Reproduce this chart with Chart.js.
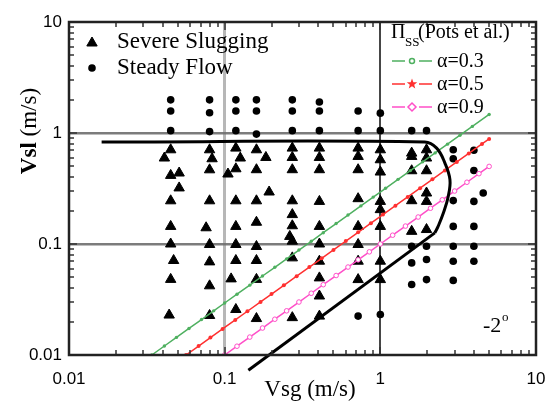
<!DOCTYPE html>
<html>
<head>
<meta charset="utf-8">
<script src="https://cdn.jsdelivr.net/npm/chart.js@4/dist/chart.umd.min.js"></script>
<style>
html, body { margin: 0; padding: 0; background: #fff; }
canvas { display: block; }
</style>
</head>
<body>
<canvas id="chart" width="546" height="403"></canvas>
<script>
// decade tick labels
const xTicks = [0.01, 0.1, 1, 10];
const yTicks = [0.01, 0.1, 1, 10];

// severe slugging (triangles)
const slugVsg = [
  0.045, 0.041, 0.045, 0.051, 0.051, 0.045, 0.045, 0.045, 0.047, 0.045, 0.044,
  0.08, 0.083, 0.08, 0.08, 0.076, 0.08, 0.08, 0.08, 0.08,
  0.118, 0.126, 0.118, 0.105, 0.118, 0.118, 0.118, 0.118, 0.110, 0.118,
  0.16, 0.184, 0.16, 0.193, 0.16, 0.16, 0.16, 0.16, 0.16, 0.16,
  0.272, 0.272, 0.272, 0.272, 0.272, 0.272, 0.262, 0.272, 0.272, 0.272,
  0.406, 0.406, 0.406, 0.406, 0.406, 0.406, 0.406, 0.406, 0.406, 0.406,
  0.72, 0.72, 0.72, 0.72, 0.72, 0.72, 0.72, 0.72,
  1, 1, 1, 1, 1, 1, 1, 1,
  1.59, 1.59, 1.59, 1.59, 1.59,
  1.98, 1.98, 1.98, 1.98, 1.98, 1.98
];
const slugVsl = [
  0.706, 0.595, 0.415, 0.436, 0.32, 0.245, 0.144, 0.100, 0.071, 0.048, 0.0229,
  0.706, 0.586, 0.466, 0.245, 0.14, 0.099, 0.069, 0.042, 0.0227,
  0.731, 0.595, 0.476, 0.427, 0.245, 0.144, 0.099, 0.071, 0.0485, 0.0257,
  0.706, 0.602, 0.467, 0.294, 0.245, 0.157, 0.095, 0.071, 0.048, 0.0213,
  0.731, 0.602, 0.467, 0.245, 0.184, 0.146, 0.117, 0.106, 0.075, 0.0217,
  0.731, 0.602, 0.467, 0.242, 0.144, 0.1, 0.07, 0.0495, 0.034, 0.0224,
  0.731, 0.615, 0.467, 0.256, 0.144, 0.099, 0.07, 0.0478,
  0.706, 0.574, 0.445, 0.242, 0.204, 0.144, 0.07, 0.0478,
  0.659, 0.615, 0.457, 0.2455, 0.13,
  0.706, 0.595, 0.457, 0.288, 0.242, 0.135
];

// steady flow (dots)
const steadyVsg = [
  0.045, 0.045, 0.045, 0.08, 0.08, 0.08, 0.118, 0.118, 0.118,
  0.16, 0.16, 0.16, 0.272, 0.272, 0.272, 0.406, 0.406, 0.406,
  0.72, 0.72, 1, 1, 1.59, 1.98,
  2.94, 2.94, 2.94, 2.94, 2.94, 2.94, 2.94,
  3.99, 3.99, 3.99, 3.99, 3.99, 3.99,
  4.58,
  1.59, 1.59, 1.59, 1.98, 1.98, 1.98,
  0.72, 1
];
const steadyVsl = [
  1.99, 1.58, 1.05, 1.99, 1.52, 1.03, 1.99, 1.58, 1.05,
  1.99, 1.58, 0.977, 1.99, 1.58, 1.05, 1.9, 1.58, 1.05,
  1.58, 1.05, 1.51, 1.05, 1.05, 1.05,
  0.706, 0.586, 0.246, 0.144, 0.0953, 0.07, 0.047,
  0.70, 0.46, 0.242, 0.144, 0.0953, 0.07,
  0.288,
  0.0953, 0.0676, 0.0431, 0.0953, 0.0724, 0.0478,
  0.0224, 0.0232
];

// Pots et al. criterion lines
const a03Vsg = [0.034, 0.041, 0.049, 0.059, 0.071, 0.085, 0.1, 0.12, 0.145, 0.175, 0.21, 0.25, 0.3, 0.36,
  0.43, 0.52, 0.62, 0.75, 0.9, 1.08, 1.3, 1.56, 1.87, 2.25, 2.7, 3.25, 3.9, 5.0];
const a03Vsl = [0.01, 0.01205, 0.0144, 0.01735, 0.02087, 0.025, 0.0294, 0.0353, 0.0426, 0.0515, 0.0617, 0.0735,
  0.0882, 0.1058, 0.1264, 0.1529, 0.1823, 0.2205, 0.2646, 0.3175, 0.3822, 0.4586, 0.5498, 0.6615, 0.7938,
  0.9555, 1.147, 1.47];
const a05Vsg = [0.0565, 0.068, 0.081, 0.097, 0.117, 0.14, 0.17, 0.2, 0.24, 0.29, 0.35, 0.42, 0.5, 0.6, 0.72,
  0.87, 1.04, 1.25, 1.5, 1.8, 2.16, 2.6, 3.1, 3.7, 4.5, 5.0];
const a05Vsl = [0.01, 0.01204, 0.01434, 0.01717, 0.02071, 0.02478, 0.03009, 0.0354, 0.04248, 0.05133, 0.06195,
  0.07434, 0.0885, 0.1062, 0.1274, 0.154, 0.1841, 0.2213, 0.2655, 0.3186, 0.3823, 0.4602, 0.5487, 0.6549,
  0.7965, 0.885];
const a09Vsg = [0.1, 0.12, 0.145, 0.175, 0.21, 0.25, 0.3, 0.36, 0.43, 0.52, 0.62, 0.72, 0.85, 1.0, 1.2, 1.45,
  1.75, 2.1, 2.5, 3.0, 3.6, 4.3, 5.0];
const a09Vsl = [0.01, 0.012, 0.0145, 0.0175, 0.021, 0.025, 0.03, 0.036, 0.043, 0.052, 0.062, 0.072, 0.085, 0.1,
  0.12, 0.145, 0.175, 0.21, 0.25, 0.3, 0.36, 0.43, 0.5];

// hand drawn boundary
const curveVsg = [0.0162, 1.93, 2.30, 2.60, 2.80, 2.73, 2.54, 2.35, 2.24];
const curveVsl = [0.83, 0.83, 0.731, 0.536, 0.38, 0.268, 0.19, 0.144, 0.126];
const diagVsg = [2.24, 0.142];
const diagVsl = [0.126, 0.0073];

const GREEN = '#4fb060', RED = '#ff3030', PINK = '#ff4fc8';
const SERIF = '"Liberation Serif", "Times New Roman", serif';
const SANS = '"Liberation Sans", Arial, sans-serif';

function pts(xs, ys) {
  return xs.map((x, i) => ({x: x, y: ys[i]}));
}

function isDecade(v, list) {
  return list.some(t => Math.abs(v / t - 1) < 1e-6);
}

function mantissa(v) {
  return v / Math.pow(10, Math.floor(Math.log10(v) + 1e-9));
}

// grid only at inner decades
function gridX(c) {
  const v = c.tick.value;
  if (Math.abs(v - 0.1) < 1e-9) return 'rgba(175,175,175,0.9)';
  if (Math.abs(v - 1) < 1e-9) return 'rgba(60,60,60,0.95)';
  return 'rgba(0,0,0,0)';
}
function gridY(c) {
  const v = c.tick.value;
  if (Math.abs(v - 0.1) < 1e-9 || Math.abs(v - 1) < 1e-9) return 'rgba(110,110,110,0.9)';
  return 'rgba(0,0,0,0)';
}

// frame + inward ticks on all four sides
const framePlugin = {
  id: 'frame',
  afterDatasetsDraw(chart) {
    const {ctx, chartArea: a, scales} = chart;
    ctx.save();
    ctx.strokeStyle = '#333';
    ctx.lineWidth = 1.5;
    ctx.beginPath();
    scales.x.ticks.forEach(t => {
      const m = mantissa(t.value);
      if (Math.abs(m - 1.5) < 1e-6) return;
      const px = Math.round(scales.x.getPixelForValue(t.value));
      const len = isDecade(t.value, xTicks) ? 8 : 5;
      ctx.moveTo(px, a.bottom); ctx.lineTo(px, a.bottom - len);
      ctx.moveTo(px, a.top); ctx.lineTo(px, a.top + len);
    });
    scales.y.ticks.forEach(t => {
      const m = mantissa(t.value);
      if (Math.abs(m - 1.5) < 1e-6) return;
      const py = Math.round(scales.y.getPixelForValue(t.value));
      const len = isDecade(t.value, yTicks) ? 8 : 5;
      ctx.moveTo(a.left, py); ctx.lineTo(a.left + len, py);
      ctx.moveTo(a.right, py); ctx.lineTo(a.right - len, py);
    });
    ctx.stroke();
    ctx.lineWidth = 2.5;
    ctx.strokeStyle = '#222';
    ctx.strokeRect(a.left, a.top, a.right - a.left, a.bottom - a.top);
    ctx.restore();
  }
};

function star(ctx, cx, cy, r) {
  ctx.beginPath();
  for (let i = 0; i < 10; i++) {
    const rr = i % 2 === 0 ? r : r * 0.42;
    const ang = -Math.PI / 2 + i * Math.PI / 5;
    const px = cx + rr * Math.cos(ang), py = cy + rr * Math.sin(ang);
    if (i === 0) ctx.moveTo(px, py); else ctx.lineTo(px, py);
  }
  ctx.closePath();
  ctx.fill();
}

// titles, legends and the inclination note
const textPlugin = {
  id: 'texts',
  afterDraw(chart) {
    const ctx = chart.ctx;
    ctx.save();
    ctx.fillStyle = '#000';

    // y title, rotated, bold "Vsl"
    ctx.translate(30, 131);
    ctx.rotate(-Math.PI / 2);
    ctx.textBaseline = 'middle';
    ctx.font = 'bold 23px ' + SERIF;
    const w1 = ctx.measureText('Vsl').width;
    ctx.font = '23px ' + SERIF;
    const w2 = ctx.measureText(' (m/s)').width;
    ctx.textAlign = 'left';
    ctx.font = 'bold 23px ' + SERIF;
    ctx.fillText('Vsl', -(w1 + w2) / 2, 0);
    ctx.font = '23px ' + SERIF;
    ctx.fillText(' (m/s)', -(w1 + w2) / 2 + w1, 0);
    ctx.setTransform(1, 0, 0, 1, 0, 0);

    // x title
    ctx.textAlign = 'center';
    ctx.textBaseline = 'middle';
    ctx.font = '23px ' + SERIF;
    ctx.fillText('Vsg (m/s)', 310, 390);

    // left legend
    Chart.helpers.drawPoint(ctx, {pointStyle: 'triangle', radius: 6, rotation: 0, borderWidth: 1}, 92, 43);
    ctx.fillStyle = '#000';
    ctx.strokeStyle = '#000';
    ctx.beginPath(); ctx.arc(92, 68, 3.8, 0, Math.PI * 2); ctx.fill();
    ctx.textAlign = 'left';
    ctx.font = '23px ' + SERIF;
    ctx.fillText('Severe Slugging', 117, 42);
    ctx.fillText('Steady Flow', 117, 68);

    // right legend
    ctx.textBaseline = 'alphabetic';
    ctx.font = '20px ' + SERIF;
    ctx.fillText('\u03A0', 391, 38);
    ctx.font = '13px ' + SERIF;
    ctx.fillText('SS', 405, 46);
    ctx.font = '20px ' + SERIF;
    ctx.fillText('(Pots et al.)', 418, 38);

    const rows = [
      {c: GREEN, y: 61, label: '\u03B1=0.3', m: 'circle'},
      {c: RED, y: 84, label: '\u03B1=0.5', m: 'star'},
      {c: PINK, y: 107, label: '\u03B1=0.9', m: 'diamond'}
    ];
    rows.forEach(r => {
      ctx.strokeStyle = r.c;
      ctx.fillStyle = r.c;
      ctx.lineWidth = 1.5;
      ctx.beginPath();
      ctx.moveTo(392, r.y); ctx.lineTo(405, r.y);
      ctx.moveTo(419, r.y); ctx.lineTo(432, r.y);
      ctx.stroke();
      if (r.m === 'circle') {
        ctx.beginPath(); ctx.arc(412, r.y, 2.5, 0, Math.PI * 2); ctx.stroke();
      } else if (r.m === 'star') {
        star(ctx, 412, r.y, 5.5);
      } else {
        ctx.beginPath();
        ctx.moveTo(412, r.y - 4); ctx.lineTo(416, r.y); ctx.lineTo(412, r.y + 4); ctx.lineTo(408, r.y);
        ctx.closePath(); ctx.stroke();
      }
      ctx.fillStyle = '#000';
      ctx.font = '20px ' + SERIF;
      ctx.textBaseline = 'middle';
      ctx.fillText(r.label, 437, r.y + 1);
    });

    // inclination
    ctx.textBaseline = 'alphabetic';
    ctx.font = '22px ' + SERIF;
    ctx.fillText('-2', 483, 332);
    ctx.font = '13px ' + SERIF;
    ctx.fillText('o', 502, 321);
    ctx.restore();
  }
};

new Chart(document.getElementById('chart'), {
  type: 'scatter',
  data: {
    datasets: [
      {
        data: pts(curveVsg, curveVsl), showLine: true, tension: 0.4,
        borderColor: '#000', borderWidth: 3, pointRadius: 0, fill: false
      },
      {
        data: pts(diagVsg, diagVsl), showLine: true, clip: false,
        borderColor: '#000', borderWidth: 3, pointRadius: 0, fill: false
      },
      {
        data: pts(a09Vsg, a09Vsl), showLine: true, borderColor: PINK, borderWidth: 1.5,
        pointStyle: 'circle', pointRadius: 2.3, pointBorderWidth: 1, pointBorderColor: PINK,
        pointBackgroundColor: '#fff'
      },
      {
        data: pts(a05Vsg, a05Vsl), showLine: true, borderColor: RED, borderWidth: 1.5,
        pointStyle: 'circle', pointRadius: 2, pointBorderWidth: 0, pointBackgroundColor: RED
      },
      {
        data: pts(a03Vsg, a03Vsl), showLine: true, borderColor: GREEN, borderWidth: 1.5,
        pointStyle: 'circle', pointRadius: 1.7, pointBorderWidth: 0, pointBackgroundColor: GREEN
      },
      {
        data: pts(slugVsg, slugVsl), pointStyle: 'triangle', pointRadius: 6,
        pointBackgroundColor: '#000', pointBorderColor: '#000', pointBorderWidth: 1
      },
      {
        data: pts(steadyVsg, steadyVsl), pointStyle: 'circle', pointRadius: 3.8,
        pointBackgroundColor: '#000', pointBorderColor: '#000', pointBorderWidth: 0
      }
    ]
  },
  options: {
    responsive: false,
    animation: false,
    layout: {padding: {left: 0, top: 22, right: 10, bottom: 0}},
    plugins: {legend: {display: false}, tooltip: {enabled: false}},
    scales: {
      x: {
        type: 'logarithmic', min: 0.01, max: 10,
        afterFit: s => { s.height = 48; s.paddingLeft = 0; s.paddingRight = 0; },
        border: {display: false},
        grid: {drawTicks: false, color: gridX, lineWidth: c => (Math.abs(c.tick.value - 0.1) < 1e-9 ? 3 : 2)},
        ticks: {
          autoSkip: false, maxRotation: 0, padding: 14, color: '#000',
          font: {family: SANS, size: 17},
          callback: v => (isDecade(v, xTicks) ? String(v) : '')
        }
      },
      y: {
        type: 'logarithmic', min: 0.01, max: 10,
        afterFit: s => { s.width = 69; s.paddingTop = 0; s.paddingBottom = 0; },
        border: {display: false},
        grid: {drawTicks: false, color: gridY, lineWidth: 2.5},
        ticks: {
          autoSkip: false, padding: 7, color: '#000',
          font: {family: SANS, size: 17},
          callback: v => (isDecade(v, yTicks) ? String(v) : '')
        }
      }
    }
  },
  plugins: [framePlugin, textPlugin]
});
</script>
</body>
</html>
